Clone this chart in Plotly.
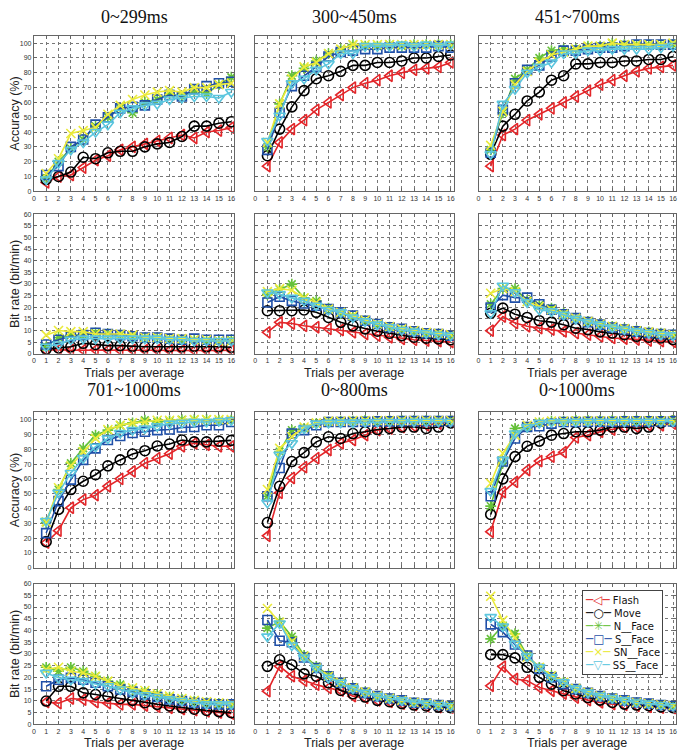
import plotly.graph_objects as go

# x values shared by every panel
trials = list(range(1, 17))
series_names = ['Flash', 'Move', 'N__Face', 'S__Face', 'SN__Face', 'SS__Face']
panel_titles = ['0~299ms', '300~450ms', '451~700ms', '701~1000ms', '0~800ms', '0~1000ms']

# accuracy (%), rows: Flash, Move, N, S, SN, SS
acc_0_299 = [
    [6, 10, 11, 16, 21, 24, 28, 30, 32, 34, 36, 38, 36, 40, 41, 43],
    [8, 10, 13, 23, 22, 26, 27, 27, 30, 32, 33, 37, 44, 44, 46, 47],
    [9, 20, 29, 35, 44, 50, 56, 53, 60, 62, 66, 64, 68, 66, 72, 77],
    [11, 17, 30, 35, 45, 50, 56, 57, 58, 62, 65, 64, 69, 71, 73, 74],
    [12, 22, 39, 41, 43, 52, 58, 62, 65, 67, 68, 67, 70, 70, 72, 73],
    [8, 19, 28, 33, 40, 45, 53, 56, 58, 59, 62, 63, 64, 64, 63, 67],
]
acc_300_450 = [
    [17, 33, 42, 48, 55, 60, 65, 70, 73, 75, 78, 80, 82, 83, 84, 87],
    [24, 42, 57, 68, 76, 78, 81, 85, 85, 87, 87, 88, 90, 90, 91, 92],
    [30, 59, 78, 83, 88, 93, 96, 99, 98, 98, 99, 98, 99, 99, 99, 99],
    [28, 53, 71, 78, 84, 91, 94, 95, 96, 96, 97, 97, 97, 97, 98, 97],
    [33, 59, 76, 84, 87, 93, 96, 99, 99, 99, 99, 99, 99, 99, 99, 99],
    [34, 51, 73, 76, 82, 86, 93, 93, 98, 98, 98, 99, 98, 99, 98, 99],
]
acc_451_700 = [
    [17, 38, 42, 48, 52, 56, 60, 64, 68, 72, 75, 78, 81, 83, 84, 85],
    [25, 44, 52, 61, 67, 75, 78, 86, 86, 87, 87, 88, 88, 89, 89, 91],
    [28, 53, 76, 82, 90, 95, 96, 96, 98, 98, 100, 99, 99, 99, 99, 99],
    [26, 55, 73, 82, 85, 91, 95, 95, 96, 97, 97, 98, 99, 99, 99, 99],
    [31, 54, 72, 81, 87, 92, 94, 96, 98, 98, 100, 99, 99, 99, 99, 100],
    [25, 59, 69, 80, 84, 87, 93, 93, 95, 95, 96, 96, 96, 96, 97, 98],
]
acc_701_1000 = [
    [17, 25, 40.5, 46, 49, 55, 60, 65, 70.6, 74, 77, 82, 84, 83, 82, 82],
    [17.6, 39.4, 52.8, 58.4, 62.8, 68.8, 72.8, 76.8, 79, 82.2, 83.5, 86.2, 85, 85, 85.5, 86],
    [30.5, 52.8, 70.6, 80.6, 89.5, 92.9, 96.2, 97.8, 99.6, 98.4, 99.1, 100, 100, 100, 99.6, 99.6],
    [23.4, 45, 59.5, 72.8, 80.6, 86.2, 88.9, 91, 91.8, 92.9, 93.3, 94.7, 95, 96.2, 96.2, 98.4],
    [31, 54, 68.8, 78.4, 87.3, 93.3, 96.2, 97.8, 98.4, 99.6, 99.6, 99.6, 100, 100, 100, 100],
    [31.6, 50.6, 64, 74, 81.7, 87.3, 91, 92.9, 94, 95.5, 97.3, 97.8, 98.4, 98.4, 99.1, 99.6],
]
acc_0_800 = [
    [21.6, 50.6, 60.6, 67.9, 74, 79.5, 84, 86.2, 89.5, 92.9, 94, 95, 95.5, 96.2, 97.3, 98.4],
    [30.5, 55, 71.7, 77.7, 85, 88.4, 87.3, 90.6, 91.8, 93.3, 94, 95, 95, 94, 95, 97.8],
    [48.3, 78.4, 92.9, 94, 97.3, 98.4, 99, 99, 99.5, 99, 99.5, 99.5, 99.5, 99.5, 99.5, 99.5],
    [48.3, 67.3, 90.6, 92.9, 96.2, 98.4, 98.4, 98.4, 98.6, 98.8, 98.8, 99, 99, 99, 99, 99],
    [52.8, 80.6, 88.4, 95, 97.8, 99, 99, 99.4, 99.4, 99.4, 99.4, 99.4, 99.4, 99.4, 99.4, 99.4],
    [43.9, 76.2, 84, 94, 97.3, 97.8, 98, 98, 98.2, 98.4, 98.4, 98.4, 98.6, 98.6, 98.6, 98.6],
]
acc_0_1000 = [
    [24.3, 51, 58, 66, 72, 75, 78, 88, 89.5, 91.8, 93.3, 95, 95, 96.2, 96.2, 97.3],
    [36, 60, 75, 82, 85.5, 89.5, 90.6, 91.8, 91.8, 92.9, 95, 95, 94, 95, 97.8, 99],
    [41.6, 70.6, 94, 95, 97.8, 99, 99, 99.4, 99.4, 99.4, 99.4, 99.4, 99.4, 99.4, 99.4, 99.4],
    [48.3, 71.7, 87.3, 95, 95.5, 97.3, 98.4, 98.4, 98.6, 98.6, 98.6, 98.8, 98.8, 98.8, 98.8, 98.8],
    [57, 77.3, 89.5, 96.2, 98.4, 99, 99, 99.2, 99.2, 99.2, 99.2, 99.2, 99.2, 99.2, 99.2, 99.2],
    [51.7, 72.8, 90.6, 95, 97.8, 98.4, 98.4, 98.6, 98.6, 98.6, 98.6, 98.6, 98.6, 98.6, 98.6, 98.6],
]

# bit rate (bit/min)
bit_0_299 = [
    [1.5, 1.8, 1.5, 1.6, 1.7, 1.6, 1.5, 1.6, 1.5, 1.5, 1.4, 1.5, 1.4, 1.4, 1.4, 1.5],
    [2.0, 2.5, 3.0, 4.5, 4.0, 3.5, 3.5, 3.2, 3.0, 3.0, 3.0, 3.0, 3.2, 3.0, 3.0, 2.8],
    [3.0, 7.0, 8.0, 8.0, 9.0, 8.5, 8.0, 7.0, 7.0, 7.0, 6.5, 6.0, 6.0, 5.5, 5.5, 6.0],
    [4.0, 6.0, 7.5, 8.0, 9.0, 8.5, 8.0, 7.5, 7.0, 7.0, 6.5, 6.0, 6.5, 6.0, 6.0, 6.0],
    [8.0, 10.0, 9.5, 9.5, 8.5, 8.5, 8.5, 8.0, 7.0, 7.0, 6.5, 6.5, 6.0, 6.0, 5.5, 5.5],
    [3.0, 4.0, 6.0, 6.5, 6.5, 6.5, 6.5, 6.5, 6.5, 6.5, 6.0, 6.0, 5.5, 5.5, 5.5, 5.5],
]
bit_300_450 = [
    [9.2, 13.5, 13, 12, 11.4, 10.7, 10.2, 9.2, 8.5, 7.8, 7.1, 6.4, 6, 5.7, 5.4, 5],
    [18.5, 18.5, 18.5, 18.8, 17.8, 15.6, 13.5, 12, 10.7, 9.7, 8.8, 7.8, 7.1, 6.7, 6.4, 6],
    [25.5, 27.7, 29.9, 24, 22.7, 19.6, 17.3, 15.9, 14.2, 12.5, 11.4, 10.2, 9.5, 8.8, 8.5, 7.8],
    [22, 24.5, 22.7, 21.6, 20.6, 19.2, 17.8, 16.4, 14.2, 12.8, 11.4, 10.7, 9.7, 8.8, 8.5, 7.8],
    [26.7, 28, 27.3, 24, 22, 19.2, 17.8, 16.4, 14.5, 12.8, 11.7, 10.7, 10, 9.2, 8.8, 8.2],
    [26.3, 25.6, 24, 22.7, 20.6, 18.8, 17.8, 15.6, 13.9, 12.5, 11.4, 10.2, 9.5, 8.8, 8.2, 7.8],
]
bit_451_700 = [
    [9.9, 16, 13.2, 11.8, 11, 10.4, 9.6, 8.9, 8.2, 7.5, 6.8, 6.5, 6.1, 5.7, 5.4, 5.1],
    [17.4, 19.6, 17, 15.6, 14.2, 13.6, 12.5, 11, 10.4, 9.4, 8.9, 8.2, 7.5, 7.1, 6.8, 6.1],
    [21.3, 28, 28, 23, 21, 19.6, 17.4, 15.3, 13.9, 12.8, 11.8, 10.8, 9.9, 9.4, 8.9, 8.2],
    [19.9, 25.2, 24.1, 24.1, 21.3, 18.9, 17, 15.3, 13.6, 12.5, 11.3, 10.4, 9.6, 8.9, 8.5, 8.2],
    [26, 28, 26.7, 22.4, 20.3, 18.9, 17, 15.3, 13.9, 12.8, 11.8, 10.8, 9.9, 9.4, 8.9, 8.2],
    [17.4, 29.2, 26.4, 22.1, 18.9, 18.2, 16.7, 15, 13.6, 12.5, 11.3, 10.4, 9.6, 8.9, 8.2, 7.9],
]
bit_701_1000 = [
    [9.5, 9, 11, 10.5, 9.5, 9, 8.5, 8.5, 8, 7.5, 7, 6.5, 6, 5.5, 5, 4.5],
    [9.9, 16.2, 16.2, 13.4, 12.7, 12, 11, 10.2, 9.2, 8.5, 7.8, 7.1, 6.4, 5.9, 5.4, 4.9],
    [24.3, 22.6, 24.3, 22.6, 20.5, 18.4, 17, 14.8, 13.8, 12.7, 11.6, 10.6, 9.9, 9.2, 8.8, 8.5],
    [16.2, 19, 19.8, 19, 17.7, 16.2, 14.8, 13.8, 12.7, 11.6, 10.6, 9.9, 9.2, 8.8, 8.5, 8.5],
    [23.3, 24.3, 22.6, 21.9, 20.5, 18.4, 16.2, 15.5, 14.4, 13, 12, 11, 10.2, 9.6, 9.2, 8.8],
    [21.9, 19.8, 19, 18.4, 17.2, 16.2, 14.8, 13.4, 12.4, 11.6, 10.6, 9.9, 9.2, 8.5, 8.5, 8.5],
]
bit_0_800 = [
    [14.1, 24.7, 20.5, 18.6, 16.9, 15.5, 14.4, 12, 11.3, 10.2, 9.6, 8.8, 8.2, 7.8, 7.3, 7.1],
    [24.7, 27.5, 25.4, 21.5, 20.5, 17.7, 14.4, 13, 11.6, 10.2, 9.6, 8.8, 8.2, 7.8, 7.3, 7.1],
    [41, 43.8, 37.4, 29.4, 24.7, 20.9, 17.7, 15.5, 13.8, 12, 11, 10.2, 9.2, 8.8, 8.2, 7.8],
    [44.5, 35.6, 35, 28.5, 24, 20.5, 17.7, 15.3, 13.4, 12, 11, 10.2, 9.2, 8.8, 8.2, 7.8],
    [49.4, 43.5, 35.3, 29, 24, 20.5, 17.9, 15.6, 13.8, 12.1, 11.1, 10.2, 9.4, 8.9, 8.3, 7.9],
    [37.4, 43, 33.6, 28.5, 24, 19.8, 17.7, 15.3, 13.4, 12, 11, 10.2, 9.3, 8.8, 8.2, 7.8],
]
bit_0_1000 = [
    [16.4, 24.6, 19.3, 18.6, 15.7, 14.3, 13.1, 11.4, 10.3, 9.3, 8.6, 8.3, 7.9, 7.4, 7.1, 6.9],
    [29.7, 29.7, 28.3, 24.3, 20, 17.1, 14.3, 12.9, 11.4, 10.3, 9.3, 8.6, 8.2, 7.9, 7.4, 7.1],
    [36.4, 42.1, 38.6, 29.3, 24.3, 20.7, 17.9, 15, 13.6, 12.1, 11.1, 10.2, 9.3, 8.8, 8.2, 7.8],
    [42.6, 39.3, 34, 29.3, 23.6, 20, 17.1, 15, 13.4, 12, 11, 10.2, 9.3, 8.8, 8.2, 7.8],
    [54.6, 44.3, 36.9, 28.6, 24.3, 20.7, 17.9, 15.3, 13.6, 12.1, 11.1, 10.2, 9.3, 8.8, 8.3, 7.9],
    [45.7, 41.7, 34.3, 28.9, 24.3, 20, 17.9, 15.2, 13.5, 12.1, 11.1, 10.2, 9.3, 8.8, 8.2, 7.8],
]

colors = ['#e3262a', '#000000', '#66c23a', '#1f4fa8', '#eaea3a', '#5cc6de']
symbols = ['triangle-left-open', 'circle-open', 'asterisk-open', 'square-open',
           'x-thin-open', 'triangle-down-open']
msizes = [10, 10, 9, 9, 9, 10]
# text glyphs used in the compact legend box
glyphs = ['◁', '○', '✳', '□', '×', '▽']

# the page body adds an 8px margin, so the figure is drawn 8px smaller
# and every pixel position below is taken from the 687x755 window minus 8
OFF = 8
W, H = 687 - OFF, 755 - OFF
col_px = [(30, 232), (253, 453), (478, 677)]
row_px = [(32, 189), (212, 353), (412, 569), (585, 727)]


def px_x(p):
    return (p - OFF) / W


def px_y(p):
    return 1 - (p - OFF) / H


# grid of panels: row 0/2 accuracy, row 1/3 bit rate
grid = [
    [acc_0_299, acc_300_450, acc_451_700],
    [bit_0_299, bit_300_450, bit_451_700],
    [acc_701_1000, acc_0_800, acc_0_1000],
    [bit_701_1000, bit_0_800, bit_0_1000],
]

fig = go.Figure()
lay = {}
ann = []
for r in range(4):
    is_acc = r in (0, 2)
    for c in range(3):
        idx = r * 3 + c + 1
        sfx = '' if idx == 1 else str(idx)
        x0, x1 = col_px[c]
        y0, y1 = row_px[r]
        common = dict(showline=True, mirror='allticks', linecolor='#666', linewidth=1,
                      ticks='inside', ticklen=3, tickcolor='#666',
                      showgrid=True, gridcolor='#777', griddash='dot', gridwidth=1,
                      zeroline=False, tickfont=dict(family='Liberation Sans', size=7, color='#333'))
        xa = dict(common, domain=[px_x(x0), px_x(x1)], anchor='y' + sfx,
                  range=[0, 16.25], tick0=0, dtick=1, showticklabels=(r != 2))
        if is_acc:
            ya = dict(common, range=[0, 105], tick0=0, dtick=10)
        else:
            ya = dict(common, range=[0, 60], tick0=0, dtick=5)
        ya.update(domain=[px_y(y1), px_y(y0)], anchor='x' + sfx, showticklabels=(c == 0))
        if c == 0:
            ya['title'] = dict(text='Accuracy (%)' if is_acc else 'Bit rate (bit/min)', standoff=3,
                               font=dict(family='Liberation Sans', size=12.5, color='#222'))
        lay['xaxis' + sfx] = xa
        lay['yaxis' + sfx] = ya

        if not is_acc:
            ann.append(dict(text='Trials per average', x=px_x((x0 + x1) / 2),
                            y=px_y(y1 + 19), xref='paper', yref='paper', showarrow=False,
                            xanchor='center', yanchor='middle',
                            font=dict(family='Liberation Sans', size=12.5, color='#222')))

        data = grid[r][c]
        for k, name in enumerate(series_names):
            fig.add_trace(go.Scatter(
                x=trials, y=data[k], mode='lines+markers', name=name, showlegend=False,
                line=dict(color=colors[k], width=1.6),
                marker=dict(symbol=symbols[k], size=msizes[k], color=colors[k],
                            line=dict(color=colors[k], width=1.6)),
                xaxis='x' + sfx, yaxis='y' + sfx))

# panel titles
for r, ypx in ((0, 13), (2, 390)):
    for c in range(3):
        x0, x1 = col_px[c]
        ann.append(dict(text=panel_titles[(r // 2) * 3 + c], x=px_x((x0 + x1) / 2), y=px_y(ypx),
                        xref='paper', yref='paper', showarrow=False, xanchor='center', yanchor='middle',
                        font=dict(family='Liberation Serif', size=18, color='#111')))

# legend box (compact, like the original) in the last panel
leg_lines = ["<span style='color:%s;font-size:12px'>─%s─</span> %s" % (colors[k], glyphs[k], n)
             for k, n in enumerate(series_names)]
ann.append(dict(text='<br>'.join(leg_lines), x=px_x(582), y=px_y(591),
                xref='paper', yref='paper', showarrow=False, xanchor='left', yanchor='top',
                align='left', bgcolor='white', bordercolor='#444', borderwidth=1, borderpad=2,
                font=dict(family='DejaVu Sans', size=10, color='#111')))

fig.update_layout(
    width=W, height=H, margin=dict(l=0, r=0, t=0, b=0),
    paper_bgcolor='white', plot_bgcolor='white',
    annotations=ann, showlegend=False,
    **lay)

fig.write_html("out.html")
